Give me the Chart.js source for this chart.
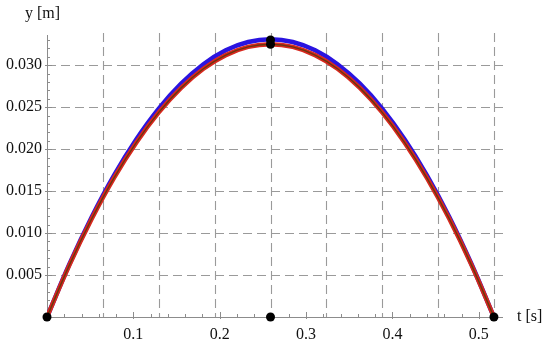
<!DOCTYPE html>
<html>
<head>
<meta charset="utf-8">
<script src="https://cdn.jsdelivr.net/npm/chart.js@4.4.1/dist/chart.umd.min.js"></script>
<style>
  html, body { margin: 0; padding: 0; background: #fff; }
  #wrap { width: 550px; height: 344px; }
</style>
</head>
<body>
<div id="wrap"><canvas id="chart"></canvas></div>
<script>
// time samples [s]
const tValues = [0, 0.0259, 0.0518, 0.0776, 0.1035, 0.1294, 0.1553, 0.1811, 0.2070, 0.2329, 0.2588,
                 0.2846, 0.3105, 0.3364, 0.3623, 0.3881, 0.4140, 0.4399, 0.4658, 0.4916, 0.5175];
// height [m]
const yBlue = [0, 0.00629, 0.01192, 0.01688, 0.02118, 0.02483, 0.0278, 0.03012, 0.03178, 0.03277, 0.0331,
               0.03277, 0.03178, 0.03012, 0.0278, 0.02483, 0.02118, 0.01688, 0.01192, 0.00629, 0];
// height [m]
const yRed = [0, 0.00618, 0.0117, 0.01658, 0.0208, 0.02438, 0.0273, 0.02958, 0.0312, 0.03218, 0.0325,
              0.03218, 0.0312, 0.02958, 0.0273, 0.02438, 0.0208, 0.01658, 0.0117, 0.00618, 0];
// black marker points
const markT = [0, 0.2588, 0.5175, 0.2588, 0.2588];
const markY = [0, 0, 0, 0.0330, 0.0325];
// tick labels
const xTicks = [0.1, 0.2, 0.3, 0.4, 0.5];
const yTicks = [0.005, 0.010, 0.015, 0.020, 0.025, 0.030];
// dashed grid positions
const gridT = [0.0647, 0.1294, 0.1941, 0.2588, 0.3234, 0.3881, 0.4528, 0.5175];
const gridY = [0.005, 0.010, 0.015, 0.020, 0.025, 0.030];

const FONT = 'Liberation Serif';

function pts(xs, ys) {
  return xs.map((x, i) => ({ x: x, y: ys[i] }));
}

const axesPlugin = {
  id: 'mmaAxes',
  beforeDatasetsDraw(chart) {
    const ctx = chart.ctx;
    const xs = chart.scales.x, ys = chart.scales.y;
    const a = chart.chartArea;
    const x0 = xs.getPixelForValue(0), y0 = ys.getPixelForValue(0);
    ctx.save();
    // dashed grid
    ctx.strokeStyle = '#9a9a9a';
    ctx.lineWidth = 1.1;
    ctx.setLineDash([9, 5]);
    gridT.forEach(t => {
      const px = Math.round(xs.getPixelForValue(t)) + 0.5;
      ctx.beginPath(); ctx.moveTo(px, a.top - 2); ctx.lineTo(px, y0); ctx.stroke();
    });
    gridY.forEach(v => {
      const py = Math.round(ys.getPixelForValue(v)) + 0.5;
      ctx.beginPath(); ctx.moveTo(x0, py); ctx.lineTo(a.right, py); ctx.stroke();
    });
    ctx.setLineDash([]);
    // axes
    ctx.strokeStyle = '#8c8c8c';
    ctx.lineWidth = 1;
    ctx.beginPath();
    ctx.moveTo(Math.round(x0) + 0.5, a.top); ctx.lineTo(Math.round(x0) + 0.5, y0 + 2);
    ctx.moveTo(x0 - 2, Math.round(y0) + 0.5); ctx.lineTo(a.right, Math.round(y0) + 0.5);
    ctx.stroke();
    // ticks
    ctx.beginPath();
    for (let i = 1; i * 0.02 < xs.max; i++) {
      const px = Math.round(xs.getPixelForValue(i * 0.02)) + 0.5;
      const len = (i % 5 === 0) ? 5 : 3;
      ctx.moveTo(px, y0 - len); ctx.lineTo(px, y0 + (i % 5 === 0 ? 2 : 0));
    }
    for (let i = 1; i * 0.001 < ys.max; i++) {
      const py = Math.round(ys.getPixelForValue(i * 0.001)) + 0.5;
      const len = (i % 5 === 0) ? 5 : 3;
      ctx.moveTo(x0 - (i % 5 === 0 ? 2 : 0), py); ctx.lineTo(x0 + len, py);
    }
    ctx.stroke();
    // axis titles
    ctx.fillStyle = '#111';
    ctx.font = '16px "' + FONT + '"';
    ctx.textBaseline = 'middle';
    ctx.textAlign = 'left';
    ctx.fillText('y [m]', 25, 14);
    ctx.fillText('t [s]', 517, y0);
    ctx.restore();
  }
};

new Chart(document.getElementById('chart').getContext('2d'), {
  type: 'line',
  data: {
    datasets: [
      { label: 'markers', type: 'scatter', data: pts(markT, markY), showLine: false,
        pointRadius: 4.5, pointBackgroundColor: '#000', pointBorderWidth: 0, clip: false, order: 0 },
      { label: 'center', data: pts(tValues, yRed), borderColor: 'rgba(70,60,10,0.75)', borderWidth: 1.4,
        pointRadius: 0, tension: 0.4, fill: false, order: 1 },
      { label: 'red', data: pts(tValues, yRed), borderColor: '#d8281e', borderWidth: 4.5,
        pointRadius: 0, tension: 0.4, fill: false, order: 2 },
      { label: 'blue', data: pts(tValues, yBlue), borderColor: '#2a14e0', borderWidth: 4.5,
        pointRadius: 0, tension: 0.4, fill: false, order: 3 }
    ]
  },
  options: {
    responsive: true,
    maintainAspectRatio: false,
    animation: false,
    layout: { padding: { left: 0, top: 35, right: 47, bottom: 0 } },
    plugins: { legend: { display: false }, tooltip: { enabled: false } },
    scales: {
      x: {
        type: 'linear', min: 0, max: 0.528,
        grid: { display: false, drawTicks: false }, border: { display: false },
        afterFit(s) { s.height = 27; },
        afterBuildTicks(s) { s.ticks = xTicks.map(v => ({ value: v })); },
        ticks: {
          padding: 8, color: '#111', maxRotation: 0, autoSkip: false,
          font: { family: FONT, size: 16 },
          callback: v => v.toFixed(1)
        }
      },
      y: {
        type: 'linear', min: 0, max: 0.0336,
        grid: { display: false, drawTicks: false }, border: { display: false },
        afterFit(s) { s.width = 47; },
        afterBuildTicks(s) { s.ticks = yTicks.map(v => ({ value: v })); },
        ticks: {
          padding: 5, color: '#111', autoSkip: false,
          font: { family: FONT, size: 16 },
          callback: v => v.toFixed(3)
        }
      }
    }
  },
  plugins: [axesPlugin]
});
</script>
</body>
</html>
